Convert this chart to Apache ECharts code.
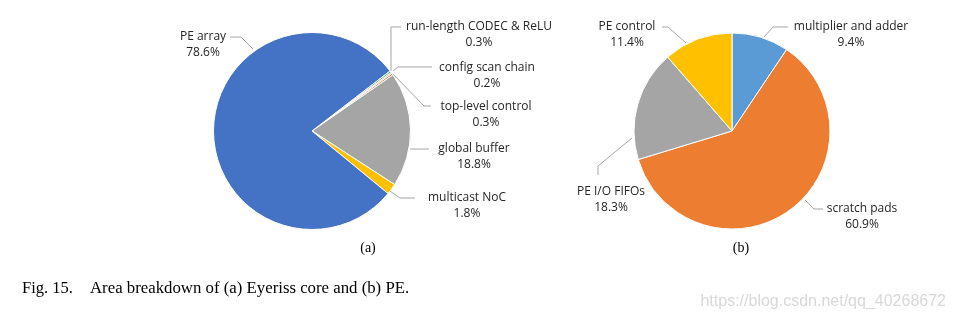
<!DOCTYPE html>
<html>
<head>
<meta charset="utf-8">
<script src="https://cdn.jsdelivr.net/npm/echarts@6/dist/echarts.min.js"></script>
<style>
html,body{margin:0;padding:0;background:#fff;}
#chart{width:955px;height:322px;}
</style>
</head>
<body>
<div id="chart"></div>
<script>
// ---- data ----
const coreNames = ['run-length CODEC & ReLU', 'config scan chain', 'top-level control', 'global buffer', 'multicast NoC', 'PE array'];
const coreValues = [0.3, 0.2, 0.3, 18.8, 1.8, 78.6];
const peNames = ['multiplier and adder', 'scratch pads', 'PE I/O FIFOs', 'PE control'];
const peValues = [9.4, 60.9, 18.3, 11.4];
const captionA = '(a)';
const captionB = '(b)';
const figLabel = 'Fig. 15.';
const figText = 'Area breakdown of (a) Eyeriss core and (b) PE.';
const watermark = 'https://blog.csdn.net/qq_40268672';

// ---- styles ----
const coreColors = {
  'run-length CODEC & ReLU': '#70AD47',
  'config scan chain': '#5B9BD5',
  'top-level control': '#ED7D31',
  'global buffer': '#A5A5A5',
  'multicast NoC': '#FFC000',
  'PE array': '#4472C4'
};
const peColors = {
  'multiplier and adder': '#5B9BD5',
  'scratch pads': '#ED7D31',
  'PE I/O FIFOs': '#A5A5A5',
  'PE control': '#FFC000'
};
// label anchor (centre of two-line block) and leader line points
const labelPlace = {
  'PE array': {x: 203, y: 44.5, line: [[253, 49], [241, 37], [230, 37]]},
  'run-length CODEC & ReLU': {x: 479, y: 35, line: [[391, 71], [391, 27], [401, 27]]},
  'config scan chain': {x: 487, y: 76, line: [[393, 71], [398, 67], [432, 67]]},
  'top-level control': {x: 486, y: 115, line: [[393, 74], [424, 106], [431, 106]]},
  'global buffer': {x: 474, y: 156.5, line: [[410, 149], [429, 149]]},
  'multicast NoC': {x: 467, y: 205.5, line: [[390, 191], [400, 198], [415, 198]]},
  'multiplier and adder': {x: 851, y: 35, line: [[764, 37], [773, 27], [788, 27]]},
  'PE control': {x: 627, y: 35, line: [[686, 43], [668, 27], [662, 27]]},
  'PE I/O FIFOs': {x: 611, y: 199.5, line: [[632, 138], [598, 166], [598, 175]]},
  'scratch pads': {x: 862, y: 217, line: [[805, 200], [814, 209], [823, 209]]}
};

const chart = echarts.init(document.getElementById('chart'), null, {renderer: 'canvas'});

function makePie(names, values, colors, center, radius, startAngle) {
  return {
    type: 'pie',
    center: center,
    radius: radius,
    startAngle: startAngle,
    clockwise: true,
    avoidLabelOverlap: false,
    silent: true,
    animation: false,
    data: names.map((n, i) => ({name: n, value: values[i], itemStyle: {color: colors[n]}})),
    itemStyle: {borderColor: '#ffffff', borderWidth: 1},
    label: {
      show: true,
      position: 'outside',
      formatter: p => p.name + '\n' + p.value.toFixed(1) + '%',
      fontFamily: 'Open Sans',
      fontSize: 12,
      lineHeight: 16,
      color: '#262626',
      align: 'center'
    },
    labelLine: {
      show: true,
      length: 10,
      length2: 10,
      smooth: false,
      lineStyle: {color: '#a6a6a6', width: 1}
    },
    labelLayout: function (params) {
      const name = (params.dataIndex != null) ? names[params.dataIndex] : null;
      const pl = labelPlace[name];
      if (!pl) return {};
      return {
        x: pl.x,
        y: pl.y,
        align: 'center',
        verticalAlign: 'middle',
        labelLinePoints: pl.line
      };
    }
  };
}

const option = {
  backgroundColor: '#ffffff',
  animation: false,
  series: [
    makePie(coreNames, coreValues, coreColors, [312, 131], 98.5, 37.6),
    makePie(peNames, peValues, peColors, [732, 131], 98, 90)
  ],
  graphic: [
    {type: 'text', x: 368, y: 248, silent: true,
      style: {text: captionA, font: '14px "Liberation Serif"', fill: '#000', align: 'center', verticalAlign: 'middle'}},
    {type: 'text', x: 741, y: 248, silent: true,
      style: {text: captionB, font: '14px "Liberation Serif"', fill: '#000', align: 'center', verticalAlign: 'middle'}},
    {type: 'text', x: 22, y: 289, silent: true,
      style: {text: figLabel, font: '16.5px "Liberation Serif"', fill: '#000', align: 'left', verticalAlign: 'middle'}},
    {type: 'text', x: 90, y: 289, silent: true,
      style: {text: figText, font: '16.8px "Liberation Serif"', fill: '#000', align: 'left', verticalAlign: 'middle'}},
    {type: 'text', x: 946, y: 302, silent: true,
      style: {text: watermark, font: '16px "Liberation Sans Narrow", "Liberation Sans"', fill: '#d8d8d8', align: 'right', verticalAlign: 'middle'}}
  ]
};
chart.setOption(option);
</script>
</body>
</html>
